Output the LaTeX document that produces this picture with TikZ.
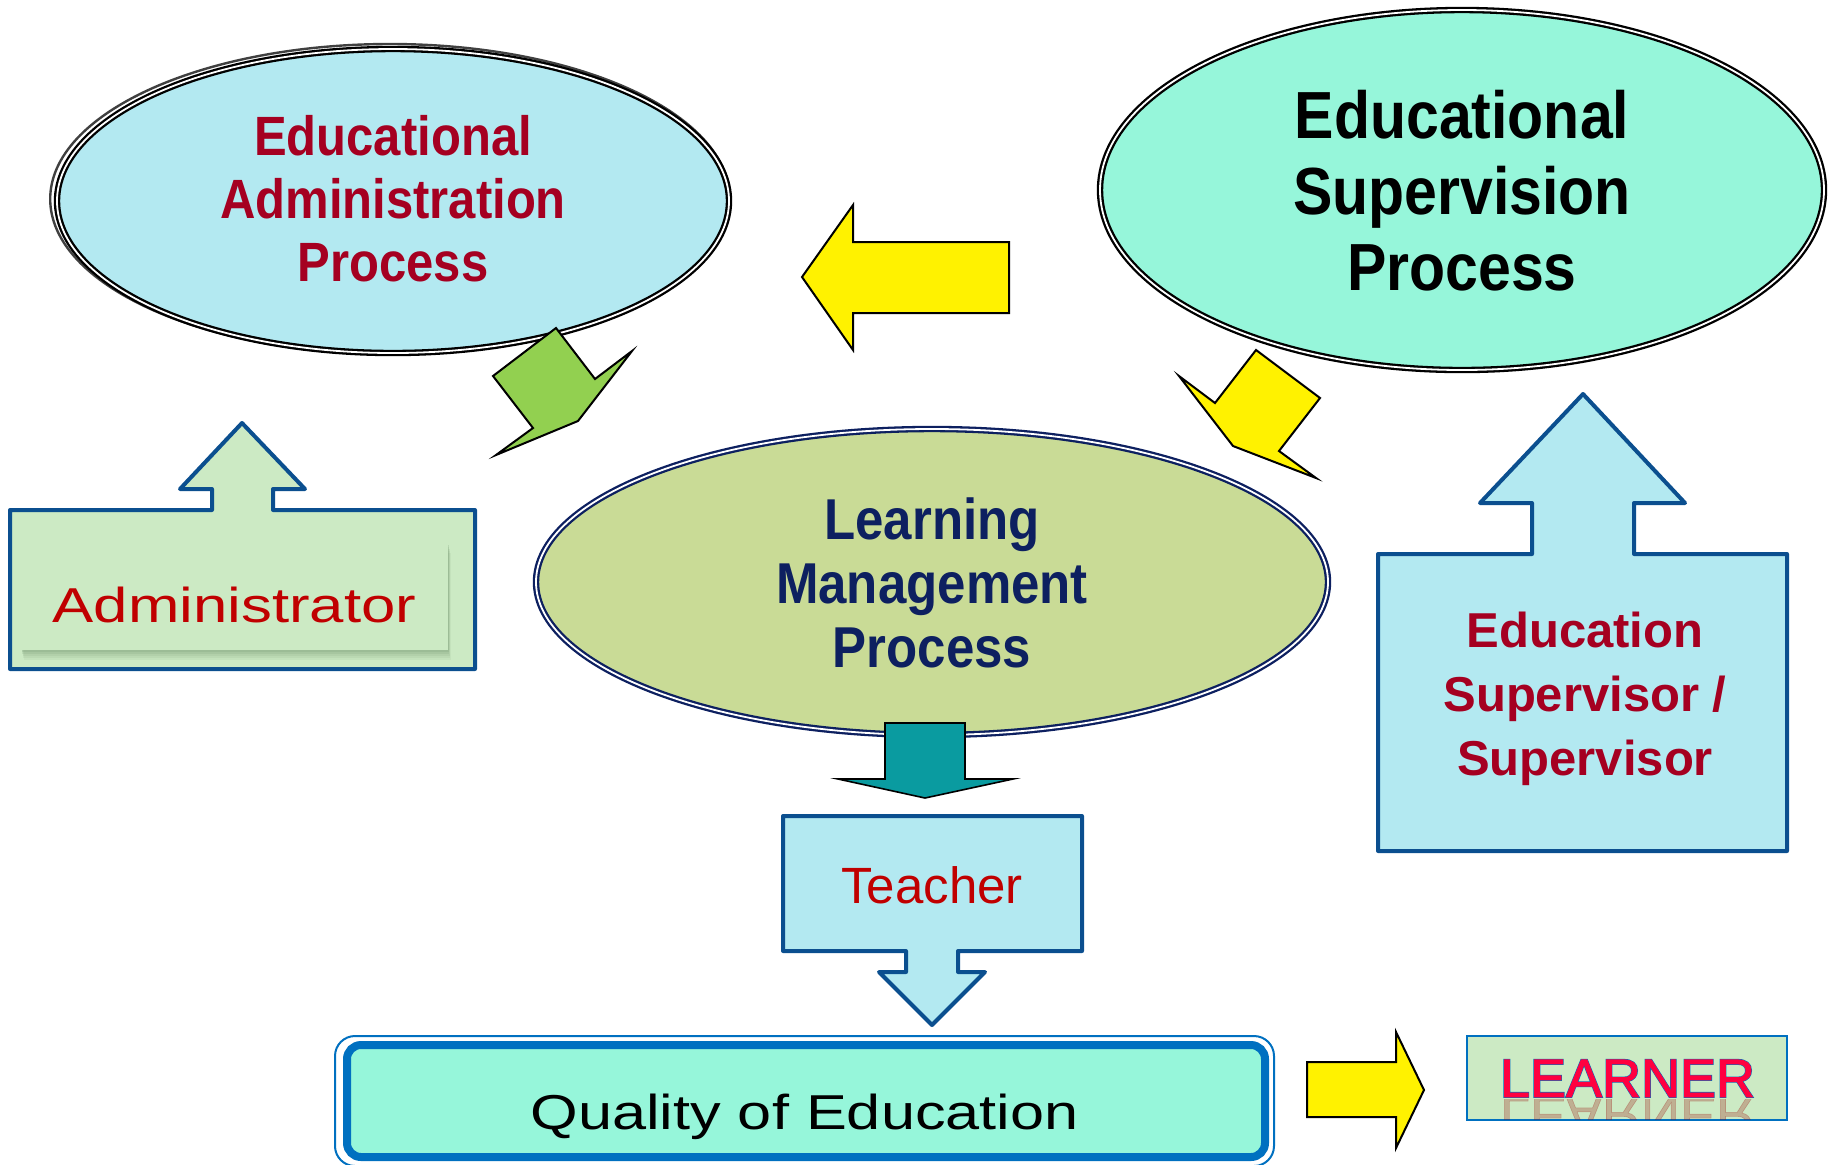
\documentclass[tikz,border=0pt]{standalone}
\usepackage{fontspec}
\setmainfont{Liberation Sans}
\usetikzlibrary{shapes.geometric}
\definecolor{admfill}{HTML}{B3E9F1}
\definecolor{supfill}{HTML}{96F6DA}
\definecolor{lmfill}{HTML}{C9DB96}
\definecolor{navy}{HTML}{0D2060}
\definecolor{darkred}{HTML}{A50021}
\definecolor{txtred}{HTML}{C00000}
\definecolor{boxblue}{HTML}{0B4F8F}
\definecolor{lgreen}{HTML}{CCEAC4}
\definecolor{tealc}{HTML}{0A9BA0}
\definecolor{qblue}{HTML}{0070C0}
\definecolor{ygreen}{HTML}{92D050}
\definecolor{lred}{HTML}{FF0040}
\definecolor{shadowc}{HTML}{7FA07A}
\begin{document}
\begin{tikzpicture}[x=0.5pt,y=-0.5pt,
  ell/.style={ellipse, inner sep=0pt, line width=1.15pt, double distance=0.9pt, double=white},
  blockarrow/.style={draw=black, line width=1pt},
  boxshape/.style={draw=boxblue, line width=2pt, line join=round},
  ]
\useasboundingbox (0,0) rectangle (1835,1164);

% ---- ellipses ----
\draw[black!75, line width=1.2pt] (390,199) ellipse [x radius=169.9pt, y radius=77.5pt];
\node[ell, draw=black, fill=admfill, minimum width=336pt, minimum height=152pt] (adm) at (393,201) {};
\node[ell, draw=black, fill=supfill, minimum width=362pt, minimum height=180pt] (sup) at (1462,190) {};
\node[ell, draw=navy, fill=lmfill, minimum width=396pt, minimum height=153pt] (lm) at (932,582) {};

\node[text=darkred] (admtext) at (393,206) {\scalebox{1}[1.13]{\fontsize{24.5}{27.7}\selectfont\bfseries\begin{tabular}{@{}c@{}}Educational\\Administration\\Process\end{tabular}}};
\node[text=black] (suptext) at (1462,199) {\scalebox{1}[1.13]{\fontsize{29.5}{33.6}\selectfont\bfseries\begin{tabular}{@{}c@{}}Educational\\Supervision\\Process\end{tabular}}};
\node[text=navy] (lmtext) at (932,591) {\scalebox{1}[1.13]{\fontsize{25.5}{28.3}\selectfont\bfseries\begin{tabular}{@{}c@{}}Learning\\Management\\Process\end{tabular}}};

% ---- block arrows ----
\draw[blockarrow, fill=yellow] (1009,242) -- (853,242) -- (853,205) -- (802,277) -- (853,350) -- (853,313) -- (1009,313) -- cycle;
\draw[blockarrow, fill=ygreen] (556,328) -- (595,379) -- (632,351) -- (578,421) -- (496,455) -- (533,428) -- (493,376) -- cycle;
\draw[blockarrow, fill=yellow] (1256,350) -- (1320,398) -- (1279,451) -- (1316,478) -- (1233,446) -- (1179,376) -- (1215,403) -- cycle;
\draw[blockarrow, line width=0.8pt, fill=tealc] (885,723) -- (965,723) -- (965,779) -- (1013,779) -- (925,798) -- (838,779) -- (885,779) -- cycle;
\draw[blockarrow, fill=yellow] (1307,1062) -- (1396,1062) -- (1396,1032) -- (1424,1090) -- (1396,1148) -- (1396,1117) -- (1307,1117) -- cycle;

% ---- Administrator ----
\draw[boxshape, fill=lgreen] (10,510) -- (212,510) -- (212,489) -- (180,489) -- (242,423) -- (305,489) -- (273,489) -- (273,510) -- (475,510) -- (475,669) -- (10,669) -- cycle;
\foreach \d/\o in {10/0.10, 8/0.12, 6/0.15, 4/0.2, 2/0.25}
  \fill[shadowc, opacity=\o] (21+\d*0.3,543+\d) rectangle (448+\d*0.3,650+\d);
\node[fill=lgreen, inner sep=0pt, minimum width=213.5pt, minimum height=53.5pt] (adminrect) at (234.5,596.5) {};
\node[anchor=base, text=txtred, inner sep=0pt] (admintext) at (234.5,622) {\fontsize{24.5}{30}\selectfont\scalebox{1.26}[1]{Administrator}};

% ---- Education Supervisor ----
\draw[boxshape, fill=admfill] (1378,554) -- (1532,554) -- (1532,503) -- (1480,503) -- (1583,394) -- (1685,503) -- (1634,503) -- (1634,554) -- (1787,554) -- (1787,851) -- (1378,851) -- cycle;
\node[text=darkred] (suptext2) at (1585,699) {\fontsize{24.5}{32}\selectfont\bfseries\begin{tabular}{@{}c@{}}Education\\Supervisor /\\Supervisor\end{tabular}};

% ---- Teacher ----
\draw[boxshape, fill=admfill] (783,816) -- (1082,816) -- (1082,951) -- (958,951) -- (958,972) -- (985,972) -- (932,1025) -- (879,972) -- (906,972) -- (906,951) -- (783,951) -- cycle;
\node[anchor=base, text=txtred, inner sep=0pt] (teacher) at (932,903) {\fontsize{25.5}{30}\selectfont Teacher};

% ---- Quality of Education ----
\node[draw=qblue, line width=1pt, fill=white, rounded corners=10pt, inner sep=0pt, minimum width=469.5pt, minimum height=65pt] (qouter) at (804.5,1101) {};
\node[draw=qblue, line width=4pt, fill=supfill, rounded corners=7pt, inner sep=0pt, minimum width=459pt, minimum height=56pt] (quality) at (806,1101) {};
\node[anchor=base, inner sep=0pt] (qtext) at (804.5,1129) {\fontsize{24.5}{29}\selectfont\scalebox{1.25}[1]{Quality of Education}};

% ---- LEARNER ----
\node[draw=qblue, line width=1pt, fill=lgreen, inner sep=0pt, minimum width=160pt, minimum height=42pt] (learnbox) at (1627,1078) {};
\begin{scope}
  \clip (1467,1099) rectangle (1787,1119);
  \node[anchor=base, inner sep=0pt, text=red!60!black, opacity=0.25] (reflect) at (1627.5,1097) {\fontsize{27}{32}\selectfont\addfontfeatures{FakeBold=1}\scalebox{1}[-1]{LEARNER}};
\end{scope}
\node[anchor=base, inner sep=0pt, text=qblue] (learnerol) at (1627.5,1097) {\fontsize{27}{32}\selectfont\addfontfeatures{FakeBold=3.5}LEARNER};
\node[anchor=base, inner sep=0pt, text=lred] (learner) at (1627.5,1097) {\fontsize{27}{32}\selectfont\addfontfeatures{FakeBold=1.5}LEARNER};
\end{tikzpicture}
\end{document}
